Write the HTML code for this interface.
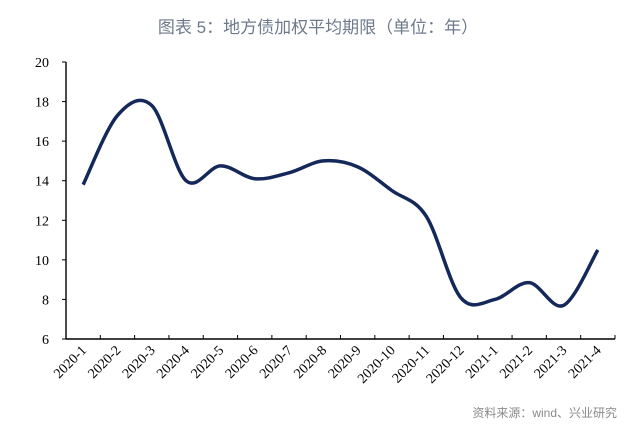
<!DOCTYPE html>
<html><head><meta charset="utf-8">
<style>
body{margin:0;background:#fff;}
svg{display:block;}
</style></head>
<body>
<svg id="chart" width="640" height="432" xmlns="http://www.w3.org/2000/svg">
<text x="318" y="33" text-anchor="middle" font-family="Liberation Sans, Noto Sans CJK SC, sans-serif" font-size="17" fill="#6d7a8c">图表 5：地方债加权平均期限（单位：年）</text>
<text x="617" y="417" text-anchor="end" font-family="Liberation Sans, Noto Sans CJK SC, sans-serif" font-size="12" fill="#8a8a8a">资料来源：wind、兴业研究</text>
<g id="axes"></g>
<path id="line" fill="none" stroke="#14285a" stroke-width="3.5" stroke-linejoin="round"/>
</svg>
<script>
const categories=["2020-1","2020-2","2020-3","2020-4","2020-5","2020-6","2020-7","2020-8","2020-9","2020-10","2020-11","2020-12","2021-1","2021-2","2021-3","2021-4"];
const values=[13.8,17.3,17.8,14.0,14.75,14.1,14.4,15.0,14.7,13.5,12.2,8.1,8.0,8.85,7.7,10.5];
const yTicks=[6,8,10,12,14,16,18,20];
const L=66,R=615,T=62,B=339,yMin=6,yMax=20;
const step=(R-L)/categories.length;
const x=i=>L+step*(i+0.5);
const y=v=>B-(v-yMin)/(yMax-yMin)*(B-T);
const NS="http://www.w3.org/2000/svg";
const g=document.getElementById('axes');
function el(t,a){const e=document.createElementNS(NS,t);for(const k in a)e.setAttribute(k,a[k]);g.appendChild(e);return e;}
const ya=el('line',{x1:L,y1:T,x2:L,y2:B,stroke:'#000','stroke-width':1.4});


const xa=el('line',{x1:L,y1:B,x2:R,y2:B,stroke:'#000','stroke-width':1.4});


yTicks.forEach(v=>{
 const tk=el('line',{x1:L-4,y1:y(v),x2:L,y2:y(v),stroke:'#000','stroke-width':1});
 
 
 const t=el('text',{x:49,y:y(v)+5,'text-anchor':'end','font-family':'Liberation Serif, serif','font-size':14,fill:'#000'});
 t.textContent=v;
 
 
});
for(let i=1;i<=categories.length;i++){
 const tk=el('line',{x1:L+step*i,y1:B,x2:L+step*i,y2:B-4,stroke:'#000','stroke-width':1});
 
 
}
categories.forEach((c,i)=>{
 const cx=x(i)+4,cy=B+12;
 const t=el('text',{x:cx,y:cy,'text-anchor':'end','font-family':'Liberation Serif, serif','font-size':14,fill:'#000',transform:`rotate(-45 ${cx} ${cy})`});
 t.textContent=c;
 
 
});
const pts=values.map((v,i)=>[x(i),y(v)]);
let d=`M${pts[0][0]},${pts[0][1]}`;
for(let i=0;i<pts.length-1;i++){
 const p0=pts[Math.max(i-1,0)],p1=pts[i],p2=pts[i+1],p3=pts[Math.min(i+2,pts.length-1)];
 const k=1/6;
 d+=` C${p1[0]+(p2[0]-p0[0])*k},${p1[1]+(p2[1]-p0[1])*k} ${p2[0]-(p3[0]-p1[0])*k},${p2[1]-(p3[1]-p1[1])*k} ${p2[0]},${p2[1]}`;
}
document.getElementById('line').setAttribute('d',d);
</script>
</body></html>
